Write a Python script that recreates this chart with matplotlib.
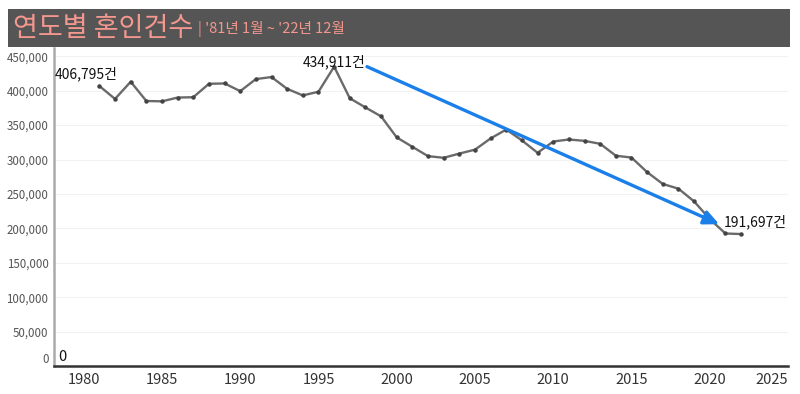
import matplotlib
matplotlib.use("Agg")
import matplotlib.pyplot as plt
from matplotlib.patches import Rectangle
from matplotlib.ticker import FuncFormatter

plt.rcParams['font.family'] = ['Noto Sans CJK KR', 'DejaVu Sans']

years = list(range(1981, 2023))
marriages = [406795, 388000, 413000, 385000, 384500, 390000, 390500, 410000, 410500,
             399312, 416872, 419774, 402593, 393121, 398484, 434911, 388960, 375616,
             362673, 332090, 318407, 304877, 302503, 308598, 314304, 330634, 343559,
             327715, 309759, 326104, 329087, 327073, 322807, 305507, 302828, 281635,
             264455, 257622, 239159, 213502, 192507, 191697]
yticks = [0, 50000, 100000, 150000, 200000, 250000, 300000, 350000, 400000, 450000]
xticks = [1980, 1985, 1990, 1995, 2000, 2005, 2010, 2015, 2020, 2025]
title = "연도별 혼인건수"
subtitle = "| '81년 1월 ~ '22년 12월"
arrow_start = (1998.1, 434911)
arrow_end = (2020.6, 206000)

fig = plt.figure(figsize=(8, 3.94), dpi=100)
ax = fig.add_axes([54/800, 28/394, 734/800, 318/394])

ax.plot(years, marriages, color='#6a6a6a', lw=1.7, marker='o', ms=2.2,
        mfc='#444444', mec='#444444', zorder=3)

ax.set_xlim(1978.1, 2025.0)
ax.set_ylim(0, 462000)
ax.set_yticks(yticks)
ax.yaxis.set_major_formatter(FuncFormatter(lambda v, p: f"{int(v):,}"))
ax.set_xticks(xticks)
ax.tick_params(axis='y', length=0, labelsize=8.3, labelcolor='#555555', pad=4)
ax.tick_params(axis='x', length=0, labelsize=10.5, labelcolor='#333333', pad=5)
for lab in ax.get_yticklabels():
    if lab.get_text() == '0':
        lab.set_va('bottom')
xl = ax.get_xticklabels()
xl[-1].set_ha('right')

ax.grid(axis='y', color='#f2f2f2', lw=0.8)
ax.set_axisbelow(True)
for s in ['top', 'right']:
    ax.spines[s].set_visible(False)
ax.spines['left'].set_color('#aaaaaa')
ax.spines['left'].set_linewidth(1.8)
ax.spines['bottom'].set_color('#333333')
ax.spines['bottom'].set_linewidth(1.8)

# annotations
fs = 10
ax.text(1978.15, 424000, f"{marriages[0]:,}건", ha='left', va='center', fontsize=fs,
        color='#111111', fontweight='medium')
ax.text(1998.0, 442000, f"{max(marriages):,}건", ha='right', va='center', fontsize=fs,
        color='#111111', fontweight='medium')
ax.text(2020.87, 209000, f"{marriages[-1]:,}건", ha='left', va='center', fontsize=fs,
        color='#111111', fontweight='medium')
ax.text(1978.35, 3000, "0", ha='left', va='bottom', fontsize=10.5, color='#111111',
        fontweight='medium')

ax.annotate('', xy=arrow_end, xytext=arrow_start,
            arrowprops=dict(arrowstyle='-|>,head_length=0.9,head_width=0.42',
                            color='#1a7fe8', lw=2.4, shrinkA=0, shrinkB=0), zorder=4)

# title bar
fig.patches.append(Rectangle((8/800, 1-47/394), 782/800, 38/394, transform=fig.transFigure,
                             facecolor='#555555', edgecolor='none', zorder=0))
t1 = fig.text(13/800, 1-28/394, title, fontsize=19.5, color='#f4978e', va='center', ha='left')
fig.canvas.draw()
bb = t1.get_window_extent()
fig.text((bb.x1 + 5)/800, 1-29/394, subtitle, fontsize=10.5, color='#f4978e', va='center', ha='left')

fig.savefig('out.png', dpi=100)
